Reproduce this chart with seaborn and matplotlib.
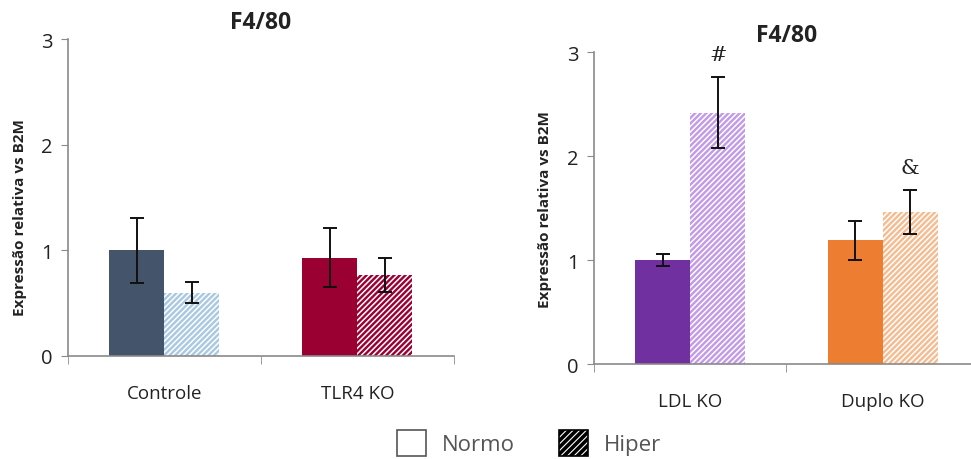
import pandas as pd
import numpy as np
import matplotlib
matplotlib.use('Agg')
import matplotlib.pyplot as plt
import seaborn as sns
from matplotlib.patches import Patch

# data
groups_left = ['Controle', 'TLR4 KO']
groups_right = ['LDL KO', 'Duplo KO']
conditions = ['Normo', 'Hiper']

normo_left = [1.00, 0.93]
hiper_left = [0.60, 0.77]
normo_left_err = [0.31, 0.28]
hiper_left_err = [0.10, 0.16]

normo_right = [1.00, 1.19]
hiper_right = [2.42, 1.46]
normo_right_err = [0.055, 0.19]
hiper_right_err = [0.34, 0.21]

marks_right = ['#', '&']

colors_left = {'Controle': ('#44546A', '#A9C8E2'), 'TLR4 KO': ('#9B0033', '#9B0033')}
colors_right = {'LDL KO': ('#7030A0', '#C39AE8'), 'Duplo KO': ('#ED7D31', '#F4BC90')}

sns.set_style('white')
plt.rcParams['font.family'] = ['Open Sans', 'DejaVu Sans']
plt.rcParams['hatch.linewidth'] = 1.1


def panel(ax, groups, normo, hiper, n_err, h_err, colors):
    df = pd.DataFrame({
        'grupo': groups * 2,
        'cond': ['Normo'] * len(groups) + ['Hiper'] * len(groups),
        'valor': normo + hiper,
        'err': n_err + h_err,
    })
    sns.barplot(data=df, x='grupo', y='valor', hue='cond', hue_order=conditions,
                order=groups, width=0.57, gap=0, ax=ax, legend=False,
                errorbar=None, saturation=1)
    # bars come in hue order: Normo for all groups, then Hiper
    for i, p in enumerate(ax.patches):
        g = groups[i % len(groups)]
        hi = i >= len(groups)
        p.set_facecolor(colors[g][1 if hi else 0])
        p.set_linewidth(0)
        if hi:
            p.set_hatch('//////')
            p.set_edgecolor('white')
        xc = p.get_x() + p.get_width() / 2
        err = df['err'].iloc[i]
        ax.errorbar(xc, p.get_height(), yerr=err, color='#111111',
                    capsize=5, capthick=1.4, elinewidth=1.4)
    ax.set_ylim(0, 3)
    ax.set_xlim(-0.5, 1.5)
    ax.set_yticks([0, 1, 2, 3])
    ax.set_xlabel('')
    ax.set_ylabel('Expressão relativa vs B2M', fontsize=11, fontweight='bold',
                  color='#222222')
    ax.set_title('F4/80', fontsize=16.5, fontweight='bold', pad=8, color='#222222')
    for s in ['top', 'right']:
        ax.spines[s].set_visible(False)
    for s in ['left', 'bottom']:
        ax.spines[s].set_color('#8a8a8a')
        ax.spines[s].set_linewidth(1.2)
    ax.tick_params(axis='y', left=True, length=5, color='#8a8a8a',
                   labelsize=14.5, labelcolor='#222222', pad=6)
    ax.tick_params(axis='x', length=0, labelsize=13.5, labelcolor='#222222', pad=20)
    ax.set_xticks([-0.5, 0.5, 1.5], minor=True)
    ax.tick_params(axis='x', which='minor', bottom=True, length=6, color='#8a8a8a')


fig = plt.figure(figsize=(9.71, 4.6), dpi=100)
ax1 = fig.add_axes([0.070, 0.224, 0.3975, 0.689])
ax2 = fig.add_axes([0.6117, 0.2065, 0.3965, 0.6776])

panel(ax1, groups_left, normo_left, hiper_left, normo_left_err, hiper_left_err, colors_left)
panel(ax2, groups_right, normo_right, hiper_right, normo_right_err, hiper_right_err, colors_right)
ax1.yaxis.set_label_coords(-0.105, 0.44)
ax2.yaxis.set_label_coords(-0.108, 0.5)

# significance marks above the Hiper bars of the right panel
for i, m in enumerate(marks_right):
    p = ax2.patches[len(groups_right) + i]
    top = hiper_right[i] + hiper_right_err[i]
    ax2.text(p.get_x() + p.get_width() / 2, top + 0.22, m, ha='center', va='center',
             fontsize=15, family='DejaVu Serif', color='#222222')

handles = [Patch(facecolor='white', edgecolor='#555555', linewidth=1.2, label='Normo'),
           Patch(facecolor='white', edgecolor='black', hatch='/////', linewidth=1.2, label='Hiper')]
with plt.rc_context({'hatch.linewidth': 2.6}):
    leg = fig.legend(handles=handles, loc='center', bbox_to_anchor=(0.545, 0.035), ncol=2,
                     frameon=False, fontsize=16, handlelength=1.3, handleheight=1.4,
                     columnspacing=2.0, handletextpad=0.7)
for t in leg.get_texts():
    t.set_color('#555555')

fig.savefig('out.png', dpi=100)
